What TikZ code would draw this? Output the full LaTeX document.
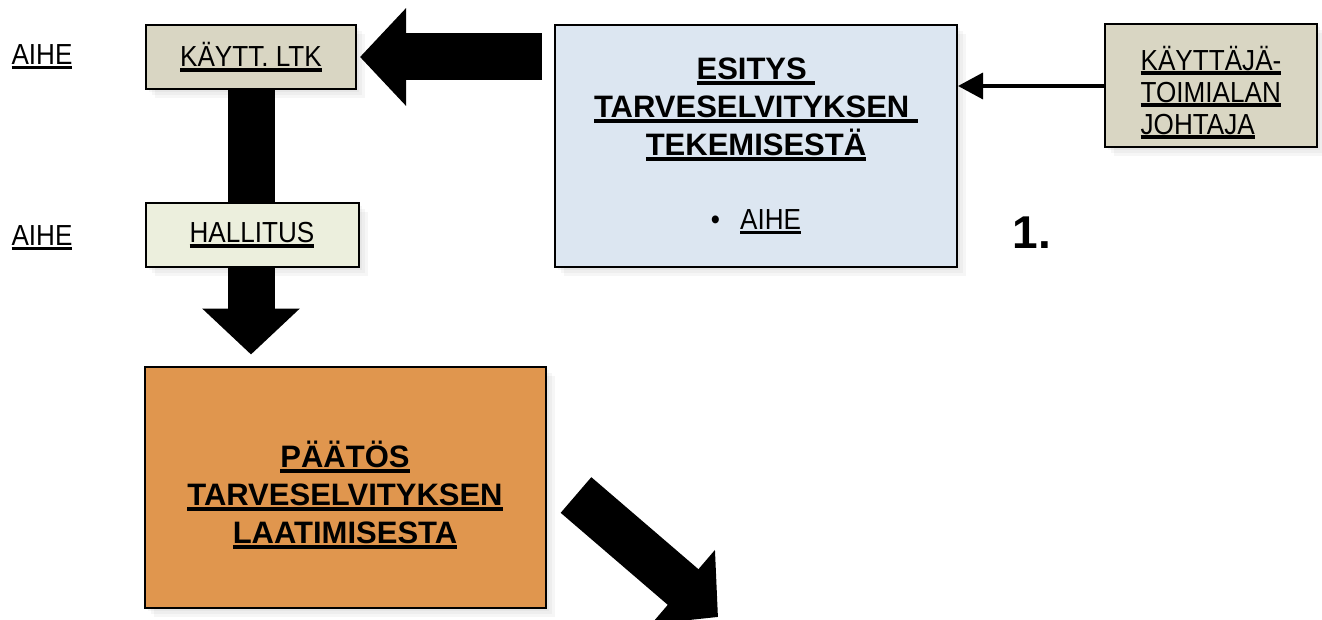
\documentclass[tikz,border=0pt]{standalone}
\usepackage{fontspec}
\setmainfont{Liberation Sans}
\newfontfamily\narrowfont{Liberation Sans}[FakeStretch=0.9]
\usetikzlibrary{arrows.meta,shadows}

\definecolor{ltkgray}{RGB}{217,214,195}
\definecolor{hallgreen}{RGB}{236,239,221}
\definecolor{esitysblue}{RGB}{220,230,241}
\definecolor{paatosorange}{RGB}{224,150,78}

\newcommand{\lineunder}[1]{\setbox0\hbox{#1}\rlap{\rule[-0.17em]{\wd0}{0.12em}}\box0}

\begin{document}
\begin{tikzpicture}[x=1pt,y=-1pt,
    box/.style={draw, line width=2pt, align=center, inner sep=0pt,
      drop shadow={opacity=.07, shadow xshift=3pt, shadow yshift=-3pt},
      drop shadow={opacity=.07, shadow xshift=6pt, shadow yshift=-6pt},
      drop shadow={opacity=.07, shadow xshift=9pt, shadow yshift=-9pt}},
    small/.style={font=\narrowfont\fontsize{29}{32}\selectfont},
    big/.style={font=\fontsize{31}{38}\selectfont\bfseries},
    fat/.style={draw, line width=47pt, -{Triangle[width=95pt,length=46pt]}},
    thin/.style={draw, line width=3.5pt, -{Triangle[width=26pt,length=25pt]}}]

        \useasboundingbox (0,0) rectangle (1322,620);

        \begin{scope}[every node/.style={box}]
          \node[small, fill=ltkgray, minimum width=210pt, minimum height=64pt] (kaytt) at (251,57) {\lineunder{KÄYTT. LTK}};
          \node[small, fill=hallgreen, minimum width=213pt, minimum height=64pt] (hallitus) at (252,235) {\lineunder{HALLITUS}};
          \node[big, fill=esitysblue, minimum width=402pt, minimum height=242pt] (esitys) at (756,146)
            {\lineunder{ESITYS\ }\\\lineunder{TARVESELVITYKSEN\ }\\\lineunder{TEKEMISESTÄ}\\[36pt]%
             {\mdseries\narrowfont\fontsize{29}{32}\selectfont •\hspace{20pt}\lineunder{AIHE}}};
          \node[small, align=left, fill=ltkgray, minimum width=212pt, minimum height=123pt] (johtaja) at (1211,86)
            {\rule{0pt}{37pt}\lineunder{KÄYTTÄJÄ-}\\\lineunder{TOIMIALAN}\\\lineunder{JOHTAJA}};
          \node[big, fill=paatosorange, minimum width=401pt, minimum height=241pt] (paatos) at (345,487)
            {\rule{0pt}{42pt}\lineunder{PÄÄTÖS}\\\lineunder{TARVESELVITYKSEN}\\\lineunder{LAATIMISESTA}};
        \end{scope}

        \node[small] (aihe1) at (42,57) {\lineunder{AIHE}};
        \node[small] (aihe2) at (42,238) {\lineunder{AIHE}};
        \node[font=\fontsize{46}{50}\selectfont\bfseries] (num) at (1032,233) {1.};

        \coordinate (nextfrom) at (576,495);
        \coordinate (nextto) at (718,617);

        \path (kaytt.east -| esitys.west) edge[fat, shorten <=12pt, shorten >=3pt] (kaytt.east);
        \path (kaytt.south) edge[fat, -] (kaytt.south |- hallitus.north);
        \path (kaytt.south |- hallitus.south) edge[fat, shorten >=11pt] (kaytt.south |- paatos.north);
        \path (johtaja.west) edge[thin] (johtaja.west -| esitys.east);
        \path (nextfrom) edge[fat] (nextto);

      \end{tikzpicture}
\end{document}
